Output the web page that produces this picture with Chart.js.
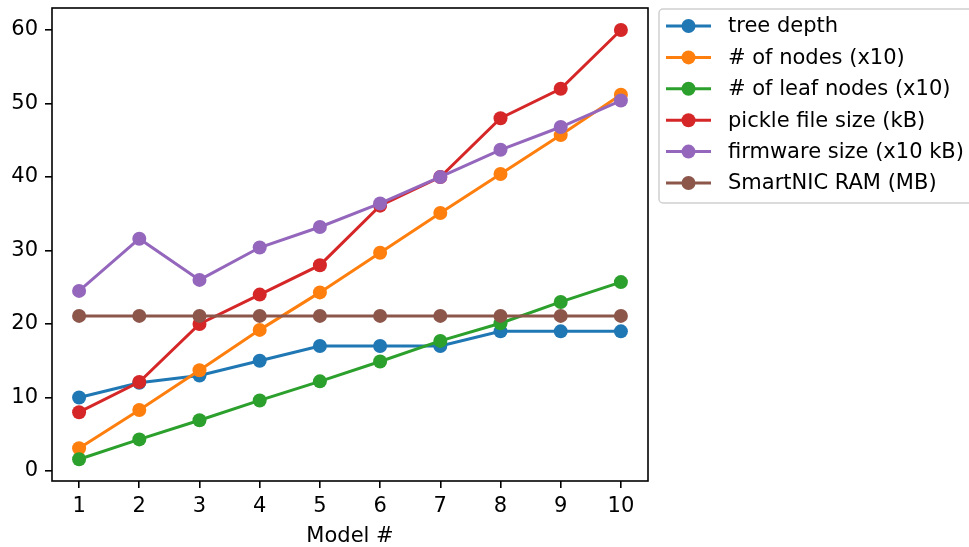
<!DOCTYPE html>
<html>
<head>
<meta charset="utf-8">
<script src="https://cdn.jsdelivr.net/npm/chart.js@4"></script>
<style>
  html, body { margin: 0; padding: 0; background: #fff; }
  #wrap { width: 969px; height: 547px; position: relative; }
</style>
</head>
<body>
<div id="wrap"><canvas id="chart"></canvas></div>
<script>
// Data
const models = [1, 2, 3, 4, 5, 6, 7, 8, 9, 10];
const treeDepth = [10, 12, 13, 15, 17, 17, 17, 19, 19, 19];
const numNodes = [3.1, 8.3, 13.7, 19.2, 24.3, 29.7, 35.1, 40.4, 45.7, 51.2];
const numLeafNodes = [1.6, 4.3, 6.9, 9.6, 12.2, 14.9, 17.7, 20.1, 23.0, 25.7];
const pickleSize = [8, 12.1, 20, 24, 28, 36.1, 40, 48, 52, 60];
const firmwareSize = [24.5, 31.6, 26.0, 30.4, 33.2, 36.4, 40.0, 43.7, 46.8, 50.4];
const smartnicRam = [21.1, 21.1, 21.1, 21.1, 21.1, 21.1, 21.1, 21.1, 21.1, 21.1];
const yTicks = [0, 10, 20, 30, 40, 50, 60];

const seriesNames = ['tree depth', '# of nodes (x10)', '# of leaf nodes (x10)',
  'pickle file size (kB)', 'firmware size (x10 kB)', 'SmartNIC RAM (MB)'];
const seriesValues = [treeDepth, numNodes, numLeafNodes, pickleSize, firmwareSize, smartnicRam];
const colors = ['#1f77b4', '#ff7f0e', '#2ca02c', '#d62728', '#9467bd', '#8c564b'];

const FONT = 'DejaVu Sans';
const FSIZE = 21;

const datasets = seriesNames.map((name, i) => ({
  label: name,
  data: models.map((m, j) => ({ x: m, y: seriesValues[i][j] })),
  borderColor: colors[i],
  backgroundColor: colors[i],
  pointBackgroundColor: colors[i],
  pointBorderColor: colors[i],
  pointBorderWidth: 0,
  pointRadius: 7,
  borderWidth: 3,
  tension: 0,
  order: seriesNames.length - i
}));

// box around the plot area (matplotlib spines)
const framePlugin = {
  id: 'frame',
  afterDraw(chart) {
    const { ctx, chartArea: a } = chart;
    ctx.save();
    ctx.strokeStyle = '#000';
    ctx.lineWidth = 1.6;
    ctx.strokeRect(a.left, a.top, a.right - a.left, a.bottom - a.top);
    ctx.restore();
  }
};

// legend outside the axes, top right
const legendPlugin = {
  id: 'mplLegend',
  afterDraw(chart) {
    const ctx = chart.ctx;
    const x0 = 659, y0 = 9, w = 318, h = 194;
    ctx.save();
    ctx.fillStyle = 'rgba(255,255,255,0.8)';
    ctx.strokeStyle = '#d0d0d0';
    ctx.lineWidth = 1.5;
    ctx.beginPath();
    ctx.roundRect(x0, y0, w, h, 4);
    ctx.fill();
    ctx.stroke();
    ctx.font = FSIZE + 'px "' + FONT + '"';
    ctx.textBaseline = 'middle';
    seriesNames.forEach((name, i) => {
      const y = 26 + i * 31.4;
      ctx.strokeStyle = colors[i];
      ctx.lineWidth = 3;
      ctx.beginPath();
      ctx.moveTo(666, y);
      ctx.lineTo(711, y);
      ctx.stroke();
      ctx.fillStyle = colors[i];
      ctx.beginPath();
      ctx.arc(688.5, y, 7, 0, Math.PI * 2);
      ctx.fill();
      ctx.fillStyle = '#000';
      ctx.fillText(name, 728, y + 1);
    });
    ctx.restore();
  }
};

new Chart(document.getElementById('chart'), {
  type: 'line',
  data: { datasets },
  options: {
    responsive: true,
    maintainAspectRatio: false,
    animation: false,
    layout: { padding: { top: 8, right: 321, left: 0, bottom: 0 } },
    plugins: { legend: { display: false }, tooltip: { enabled: false } },
    scales: {
      x: {
        type: 'linear',
        min: 0.55,
        max: 10.45,
        afterBuildTicks: s => { s.ticks = models.map(v => ({ value: v })); },
        afterFit: s => { s.height = 66; s.paddingLeft = 0; s.paddingRight = 0; },
        grid: { drawOnChartArea: false, drawTicks: true, tickLength: 7, color: '#000', lineWidth: 1.6 },
        border: { display: false },
        ticks: { color: '#000', font: { family: FONT, size: FSIZE }, padding: 6, maxRotation: 0 },
        title: { display: true, text: 'Model #', color: '#000', font: { family: FONT, size: FSIZE }, padding: { top: 0, bottom: -2 } }
      },
      y: {
        type: 'linear',
        min: -1.36,
        max: 62.99,
        afterBuildTicks: s => { s.ticks = yTicks.map(v => ({ value: v })); },
        afterFit: s => { s.width = 52; s.paddingTop = 0; s.paddingBottom = 0; },
        grid: { drawOnChartArea: false, drawTicks: true, tickLength: 7, color: '#000', lineWidth: 1.6 },
        border: { display: false },
        ticks: { color: '#000', font: { family: FONT, size: FSIZE }, padding: 7 }
      }
    }
  },
  plugins: [framePlugin, legendPlugin]
});
</script>
</body>
</html>
